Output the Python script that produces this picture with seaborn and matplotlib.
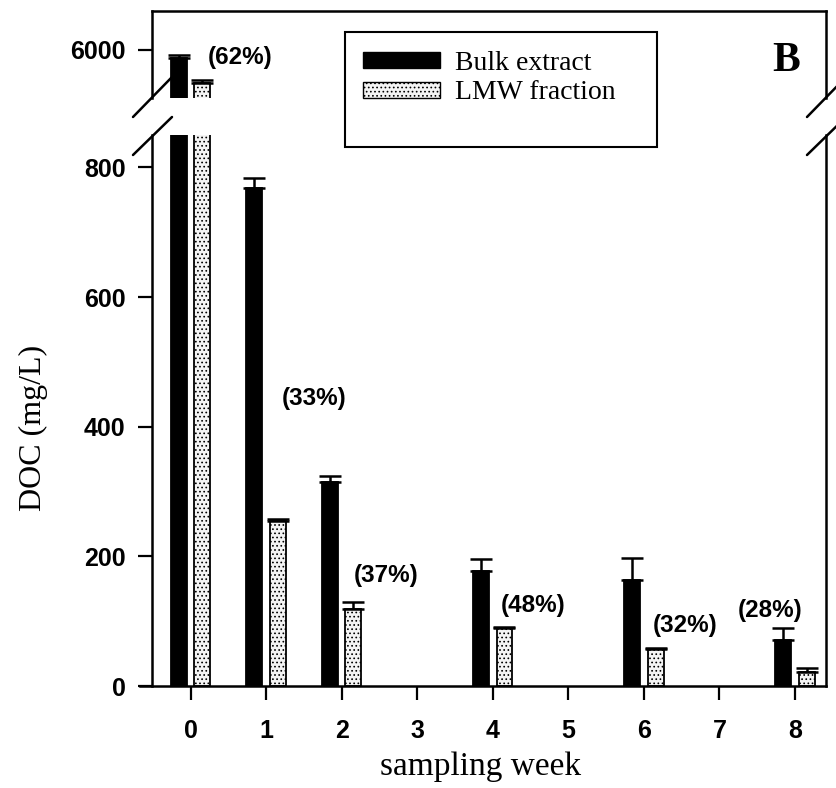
import os
import matplotlib
matplotlib.use("Agg")
import matplotlib.pyplot as plt
import matplotlib.font_manager as fm
import seaborn as sns
import pandas as pd
from matplotlib.patches import Patch, Rectangle
from matplotlib.lines import Line2D

# ---------------- data ----------------
weeks = [0, 1, 2, 4, 6, 8]
bulk = [5830, 769, 315, 177, 164, 71]
bulk_err = [62, 14, 9, 19, 34, 19]
lmw = [5310, 255, 119, 89, 57, 22]
lmw_err = [62, 2, 11, 2, 2, 5]
series_names = ["Bulk extract", "LMW fraction"]
pct_labels = ["(62%)", "(33%)", "(37%)", "(48%)", "(32%)", "(28%)"]
pct_pos = [(0.655, 5828), (1.63, 443), (2.59, 171), (4.54, 124), (6.55, 94), (7.67, 116)]
tick_weeks = list(range(9))
lower_ticks = [0, 200, 400, 600, 800]
upper_ticks = [6000]

sns.set_theme(style="white")
plt.rcParams["font.family"] = ["Liberation Sans", "DejaVu Sans"]
plt.rcParams["hatch.linewidth"] = 0.7
plt.rcParams["hatch.color"] = "black"
for k in ("text.color", "axes.labelcolor", "xtick.color", "ytick.color"):
    plt.rcParams[k] = "black"


def find_font(fname):
    for f in fm.findSystemFonts():
        if os.path.basename(f).lower() == fname.lower():
            return f
    return None


bold_path = find_font("LiberationSans-Bold.ttf")


def bold_fp(size):
    if bold_path:
        return fm.FontProperties(fname=bold_path, size=size)
    return fm.FontProperties(family="Liberation Sans", weight="bold", size=size)


df = pd.DataFrame({
    "week": weeks + weeks,
    "DOC": bulk + lmw,
    "fraction": [series_names[0]] * len(weeks) + [series_names[1]] * len(weeks),
})
palette = {series_names[0]: "black", series_names[1]: "#f4f4f4"}

W, H = 836, 788
fig = plt.figure(figsize=(W / 100, H / 100), dpi=100)
L, R = 152, 826


def rect(top, bottom):
    return [L / W, 1 - bottom / H, (R - L) / W, (bottom - top) / H]


ax_top = fig.add_axes(rect(11, 98))
ax = fig.add_axes(rect(135, 686))

for a in (ax_top, ax):
    sns.barplot(data=df, x="week", y="DOC", hue="fraction", hue_order=series_names,
                palette=palette, native_scale=True, width=0.62, gap=0.32,
                errorbar=None, legend=False, ax=a, edgecolor="black",
                linewidth=1.3, saturation=1)
    for p in list(a.patches):
        cx = p.get_x() + p.get_width() / 2
        h = p.get_height()
        wk = int(round(cx))
        i = weeks.index(wk)
        if cx < wk:
            err = bulk_err[i]
        else:
            err = lmw_err[i]
            p.set_hatch("....")
        a.errorbar(cx, h, yerr=[[0], [err]], fmt="none", ecolor="black",
                   elinewidth=1.8, capsize=8, capthick=1.8, zorder=1)
    a.set_xlim(-0.51, 8.41)
    a.set_xlabel("")
    a.set_ylabel("")
    for s in a.spines.values():
        s.set_linewidth(1.8)
        s.set_color("black")

ax.set_ylim(0, 850)
ax_top.set_ylim(5000, 6800)
ax.spines["top"].set_visible(False)
ax_top.spines["bottom"].set_visible(False)
ax.spines["bottom"].set_bounds(-0.67, 8.41)

ax.set_xticks(tick_weeks, labels=[str(t) for t in tick_weeks])
ax.set_yticks(lower_ticks, labels=[str(t) for t in lower_ticks])
ax.tick_params(axis="x", bottom=True, direction="out", length=10, width=1.6, pad=14)
ax.tick_params(axis="y", left=True, direction="out", length=10, width=1.6, pad=9)

ax_top.set_yticks(upper_ticks, labels=[str(t) for t in upper_ticks])
ax_top.tick_params(axis="x", bottom=False, labelbottom=False)
ax_top.tick_params(axis="y", left=True, direction="out", length=10, width=1.6, pad=9)

for lbl in ax.get_xticklabels() + ax.get_yticklabels() + ax_top.get_yticklabels():
    lbl.set_fontproperties(bold_fp(18))

ax.set_xlabel("sampling week", fontfamily="Liberation Serif", fontsize=24)
ax.xaxis.set_label_coords(0.487, -0.118)
ax.set_ylabel("DOC (mg/L)", fontfamily="Liberation Serif", fontsize=23)
ax.yaxis.set_label_coords(-0.155, 0.468)

for (x, y), s in zip(pct_pos, pct_labels):
    target = ax_top if y > 1000 else ax
    target.text(x, y, s, ha="center", va="center", fontproperties=bold_fp(17.5))

# axis break marks
for (x1, y1, x2, y2) in [(133, 117, 172, 77), (133, 155, 172, 117),
                         (807, 117, 846, 77), (807, 155, 846, 117)]:
    fig.add_artist(Line2D([x1 / W, x2 / W], [1 - y1 / H, 1 - y2 / H],
                          transform=fig.transFigure, color="black", lw=1.8))

# legend frame
fig.add_artist(Rectangle((345 / W, 1 - 147 / H), 312 / W, 115 / H,
                         transform=fig.transFigure, facecolor="white",
                         edgecolor="black", lw=1.5, zorder=5))

handles = [Patch(facecolor="black", edgecolor="black"),
           Patch(facecolor=palette[series_names[1]], edgecolor="black", hatch="....")]
leg = fig.legend(handles, series_names, loc="upper left",
                 bbox_to_anchor=(363 / W, 1 - 51 / H), frameon=False, borderaxespad=0,
                 prop={"family": "Liberation Serif", "size": 20},
                 handlelength=2.77, handleheight=0.5, borderpad=0,
                 labelspacing=0.16, handletextpad=0.54)
leg.set_zorder(6)

fig.text(786 / W, 1 - 61 / H, "B", fontfamily="Liberation Serif", fontweight="bold",
         fontsize=30, ha="center", va="center")

fig.savefig("out.png", dpi=100)
